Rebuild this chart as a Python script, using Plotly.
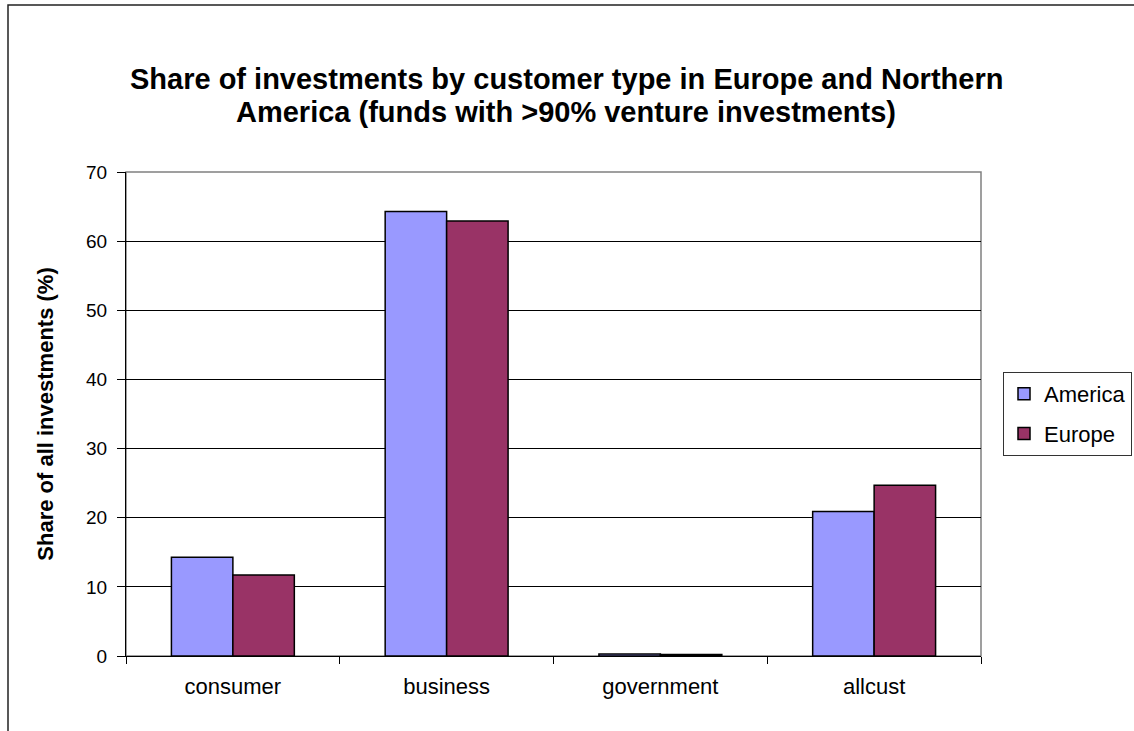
import plotly.graph_objects as go

categories = ["consumer", "business", "government", "allcust"]
america = [14.3, 64.3, 0.3, 20.9]
europe = [11.7, 62.9, 0.2, 24.7]
y_ticks = [0, 10, 20, 30, 40, 50, 60, 70]

FONT = "Liberation Sans, Arial, sans-serif"

fig = go.Figure()
fig.add_trace(go.Bar(
    x=categories, y=america, name="America", legendgroup="a",
    marker=dict(color="#9999FF", line=dict(color="black", width=1.5)),
))
fig.add_trace(go.Bar(
    x=categories, y=europe, name="Europe", legendgroup="e",
    marker=dict(color="#993366", line=dict(color="black", width=1.5)),
))

W, H = 1134, 731
L, R, T, B = 126, 153, 172, 75
pw, ph = W - L - R, H - T - B

def px_x(p):
    return (p - L) / pw

def px_y(p):
    return (H - B - p) / ph

fig.update_layout(
    width=W, height=H,
    margin=dict(l=L, r=R, t=T, b=B, autoexpand=False),
    paper_bgcolor="white", plot_bgcolor="white",
    font=dict(family=FONT, size=18, color="black"),
    barmode="group", bargap=0.425, bargroupgap=0,
    showlegend=True,
    legend=dict(
        x=px_x(1003), xanchor="left", y=0.5, yanchor="middle",
        bordercolor="#333333", borderwidth=1, bgcolor="white",
        font=dict(family=FONT, size=22), tracegroupgap=8,
    ),
    xaxis=dict(
        showline=True, linecolor="black", linewidth=1,
        ticks="outside", tickson="boundaries", ticklen=7, tickcolor="black",
        showgrid=False, tickfont=dict(size=22), ticklabelstandoff=11,
    ),
    yaxis=dict(
        range=[0, 70], tickvals=y_ticks, showline=True, linecolor="black",
        linewidth=1, ticks="outside", ticklen=8, tickcolor="black",
        showgrid=True, gridcolor="black", gridwidth=1, zeroline=False,
        tickfont=dict(size=19), ticklabelstandoff=6,
        title=dict(text="<b>Share of all investments (%)</b>",
                   font=dict(size=22), standoff=26),
    ),
    shapes=[
        # outer chart frame
        dict(type="rect", xref="paper", yref="paper",
             x0=px_x(8), x1=px_x(W + 20), y0=px_y(H + 20), y1=px_y(5),
             line=dict(color="#222222", width=1.5), fillcolor="rgba(0,0,0,0)",
             layer="below"),
        # plot area border
        dict(type="rect", xref="paper", yref="paper", x0=0, x1=1, y0=0, y1=1,
             line=dict(color="#808080", width=1.5), fillcolor="rgba(0,0,0,0)",
             layer="below"),
    ],
    annotations=[
        dict(text="<b>Share of investments by customer type in Europe and Northern</b>",
             xref="paper", yref="paper", x=px_x(566), y=px_y(79),
             xanchor="center", yanchor="middle", showarrow=False,
             font=dict(size=29)),
        dict(text="<b>America (funds with >90% venture investments)</b>",
             xref="paper", yref="paper", x=px_x(566), y=px_y(112),
             xanchor="center", yanchor="middle", showarrow=False,
             font=dict(size=29)),
    ],
)

fig.write_html("out.html")
